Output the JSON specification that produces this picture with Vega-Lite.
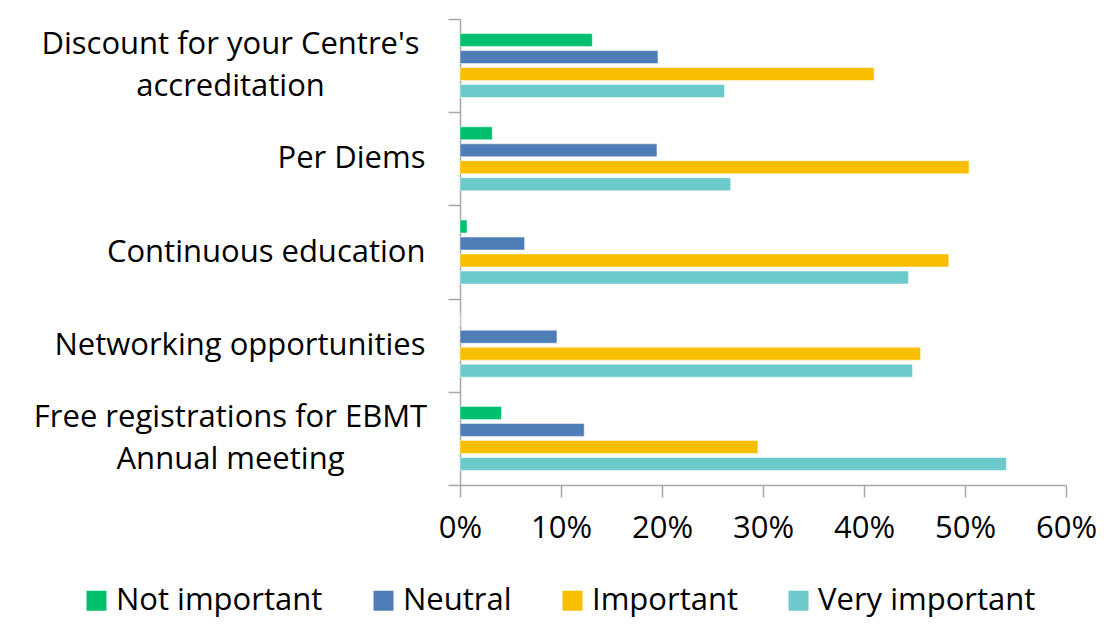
{
  "$schema": "https://vega.github.io/schema/vega-lite/v6.json",
  "width": 606,
  "height": 466,
  "autosize": {"type": "none"},
  "padding": {"left": 460, "top": 19, "right": 38, "bottom": 141},
  "config": {"font": "Open Sans", "view": {"stroke": null}},
  "data": {
    "values": [
      {"category": "Discount for your Centre's accreditation", "level": "Not important", "value": 0.131},
      {"category": "Discount for your Centre's accreditation", "level": "Neutral", "value": 0.196},
      {"category": "Discount for your Centre's accreditation", "level": "Important", "value": 0.410},
      {"category": "Discount for your Centre's accreditation", "level": "Very important", "value": 0.262},
      {"category": "Per Diems", "level": "Not important", "value": 0.032},
      {"category": "Per Diems", "level": "Neutral", "value": 0.195},
      {"category": "Per Diems", "level": "Important", "value": 0.504},
      {"category": "Per Diems", "level": "Very important", "value": 0.268},
      {"category": "Continuous education", "level": "Not important", "value": 0.007},
      {"category": "Continuous education", "level": "Neutral", "value": 0.064},
      {"category": "Continuous education", "level": "Important", "value": 0.484},
      {"category": "Continuous education", "level": "Very important", "value": 0.444},
      {"category": "Networking opportunities", "level": "Not important", "value": 0.0},
      {"category": "Networking opportunities", "level": "Neutral", "value": 0.096},
      {"category": "Networking opportunities", "level": "Important", "value": 0.456},
      {"category": "Networking opportunities", "level": "Very important", "value": 0.448},
      {"category": "Free registrations for EBMT Annual meeting", "level": "Not important", "value": 0.041},
      {"category": "Free registrations for EBMT Annual meeting", "level": "Neutral", "value": 0.123},
      {"category": "Free registrations for EBMT Annual meeting", "level": "Important", "value": 0.295},
      {"category": "Free registrations for EBMT Annual meeting", "level": "Very important", "value": 0.541}
    ]
  },
  "mark": {"type": "bar", "stroke": "white", "strokeWidth": 0.5},
  "encoding": {
    "y": {
      "field": "category",
      "type": "nominal",
      "sort": null,
      "scale": {"paddingInner": 0, "paddingOuter": 0},
      "axis": {
        "title": null,
        "tickBand": "extent",
        "tickSize": 12,
        "tickColor": "#A6A6A6",
        "tickWidth": 1.5,
        "domainColor": "#A6A6A6",
        "domainWidth": 1.5,
        "labelFontSize": 31,
        "labelColor": "#000000",
        "labelPadding": {"condition": {"test": "length(datum.value + '') > 30", "value": 218}, "value": 23},
        "labelAlign": {"condition": {"test": "length(datum.value + '') > 30", "value": "center"}, "value": "right"},
        "labelBaseline": {"condition": {"test": "length(datum.value + '') > 30", "value": "line-bottom"}, "value": "middle"},
        "labelLimit": 500,
        "labelLineHeight": 42,
        "labelExpr": "datum.value == \"Discount for your Centre's accreditation\" ? [\"Discount for your Centre's\", \"accreditation\"] : datum.value == 'Free registrations for EBMT Annual meeting' ? ['Free registrations for EBMT', 'Annual meeting'] : datum.value"
      }
    },
    "yOffset": {
      "field": "level",
      "type": "nominal",
      "sort": ["Not important", "Neutral", "Important", "Very important"],
      "scale": {"paddingInner": 0.235, "paddingOuter": 0.86}
    },
    "x": {
      "field": "value",
      "type": "quantitative",
      "scale": {"domain": [0, 0.6], "nice": false},
      "axis": {
        "title": null,
        "format": ".0%",
        "values": [0, 0.1, 0.2, 0.3, 0.4, 0.5, 0.6],
        "grid": false,
        "tickSize": 12,
        "tickColor": "#A6A6A6",
        "tickWidth": 1.5,
        "domainColor": "#A6A6A6",
        "domainWidth": 1.5,
        "labelFontSize": 31,
        "labelColor": "#000000",
        "labelPadding": 16,
        "labelFlush": false
      }
    },
    "color": {
      "field": "level",
      "type": "nominal",
      "sort": ["Not important", "Neutral", "Important", "Very important"],
      "scale": {
        "domain": ["Not important", "Neutral", "Important", "Very important"],
        "range": ["#00C06E", "#4F7DB8", "#F9BE00", "#6CC9CC"]
      },
      "legend": {
        "title": null,
        "orient": "none",
        "direction": "horizontal",
        "legendX": -379,
        "legendY": 566,
        "symbolType": "square",
        "symbolSize": 400,
        "symbolStrokeWidth": 0,
        "labelFontSize": 31,
        "labelColor": "#000000",
        "labelOffset": 4,
        "columnPadding": 45,
        "labelLimit": 400
      }
    }
  }
}
